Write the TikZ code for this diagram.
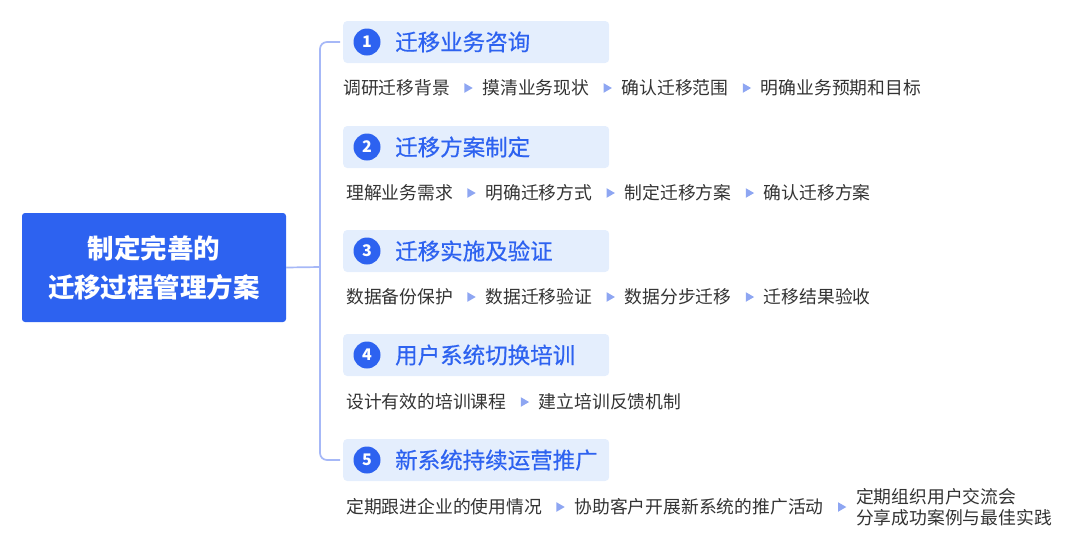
\documentclass[tikz,border=0pt]{standalone}
\usepackage{fontspec}
\setmainfont{Noto Sans CJK SC}
\newfontfamily\cjkmed{Noto Sans CJK SC}[FakeBold=0.6]
\usetikzlibrary{shapes.geometric,calc}
\definecolor{mainblue}{HTML}{2D62F0}
\definecolor{connc}{HTML}{A6B8F7}
\definecolor{hdrbg}{HTML}{E4EEFD}
\definecolor{subtxt}{HTML}{333333}
\definecolor{tric}{HTML}{8EA6F2}
\tikzset{
  mainbox/.style={fill=mainblue, rounded corners=3pt, minimum width=264pt, minimum height=109pt, inner sep=0pt, text=white, align=center, font=\fontsize{26.5}{39}\selectfont\bfseries},
  conn/.style={draw=connc, line width=1.7pt},
  hdr/.style={fill=hdrbg, rounded corners=4pt, minimum width=266pt, minimum height=42pt, inner sep=0pt, anchor=west},
  numc/.style={circle, fill=mainblue, minimum size=27pt, inner sep=0pt, text=white, font=\fontsize{16}{16}\selectfont\bfseries},
  ttl/.style={anchor=west, inner sep=0pt, text=mainblue, font=\cjkmed\fontsize{22.5}{24}\selectfont},
  sub/.style={anchor=west, inner sep=0pt, text=subtxt, font=\fontsize{17.8}{21}\selectfont},
  tri/.style={regular polygon, regular polygon sides=3, shape border rotate=-90, fill=tric, minimum size=11pt, inner sep=0pt},
}
\begin{document}
\begin{tikzpicture}[x=1pt,y=-1pt]
\useasboundingbox (0,0) rectangle (1080,547);
% main box
\node[mainbox] (main) at (154,267.5) {制定完善的\\迁移过程管理方案};
% headers
\foreach \i/\y/\t in {1/42/迁移业务咨询, 2/147/迁移方案制定, 3/251/迁移实施及验证, 4/355/用户系统切换培训, 5/460/新系统持续运营推广}{
  \node[hdr] (h\i) at (343,\y) {};
  \node[numc] (n\i) at (367,\y) {\i};
  \node[ttl] (ht\i) at (395,\y) {\t};
}
% connectors
\coordinate (jn) at (320,267);
\draw[conn] (main.east) -- (jn);
\draw[conn, rounded corners=7pt] ([xshift=-3pt]h1.west) -| (jn) |- ([xshift=-3pt]h5.west);
% row 1
\node[sub] (r1a) at (343,88) {调研迁移背景};
\node[tri] (t1a) at ([xshift=17pt]r1a.east) {};
\node[sub] (r1b) at ([xshift=32pt]r1a.east) {摸清业务现状};
\node[tri] (t1b) at ([xshift=17pt]r1b.east) {};
\node[sub] (r1c) at ([xshift=32pt]r1b.east) {确认迁移范围};
\node[tri] (t1c) at ([xshift=17pt]r1c.east) {};
\node[sub] (r1d) at ([xshift=32pt]r1c.east) {明确业务预期和目标};
% row 2
\node[sub] (r2a) at (346,193) {理解业务需求};
\node[tri] (t2a) at ([xshift=17pt]r2a.east) {};
\node[sub] (r2b) at ([xshift=32pt]r2a.east) {明确迁移方式};
\node[tri] (t2b) at ([xshift=17pt]r2b.east) {};
\node[sub] (r2c) at ([xshift=32pt]r2b.east) {制定迁移方案};
\node[tri] (t2c) at ([xshift=17pt]r2c.east) {};
\node[sub] (r2d) at ([xshift=32pt]r2c.east) {确认迁移方案};
% row 3
\node[sub] (r3a) at (346,297) {数据备份保护};
\node[tri] (t3a) at ([xshift=17pt]r3a.east) {};
\node[sub] (r3b) at ([xshift=32pt]r3a.east) {数据迁移验证};
\node[tri] (t3b) at ([xshift=17pt]r3b.east) {};
\node[sub] (r3c) at ([xshift=32pt]r3b.east) {数据分步迁移};
\node[tri] (t3c) at ([xshift=17pt]r3c.east) {};
\node[sub] (r3d) at ([xshift=32pt]r3c.east) {迁移结果验收};
% row 4
\node[sub] (r4a) at (346,402) {设计有效的培训课程};
\node[tri] (t4a) at ([xshift=17pt]r4a.east) {};
\node[sub] (r4b) at ([xshift=32pt]r4a.east) {建立培训反馈机制};
% row 5
\node[sub] (r5a) at (346,507) {定期跟进企业的使用情况};
\node[tri] (t5a) at ([xshift=17pt]r5a.east) {};
\node[sub] (r5b) at ([xshift=32pt]r5a.east) {协助客户开展新系统的推广活动};
\node[tri] (t5b) at ([xshift=17pt]r5b.east) {};
\node[sub, align=left] (r5c) at ([xshift=32pt]r5b.east) {定期组织用户交流会\\分享成功案例与最佳实践};
\end{tikzpicture}
\end{document}
